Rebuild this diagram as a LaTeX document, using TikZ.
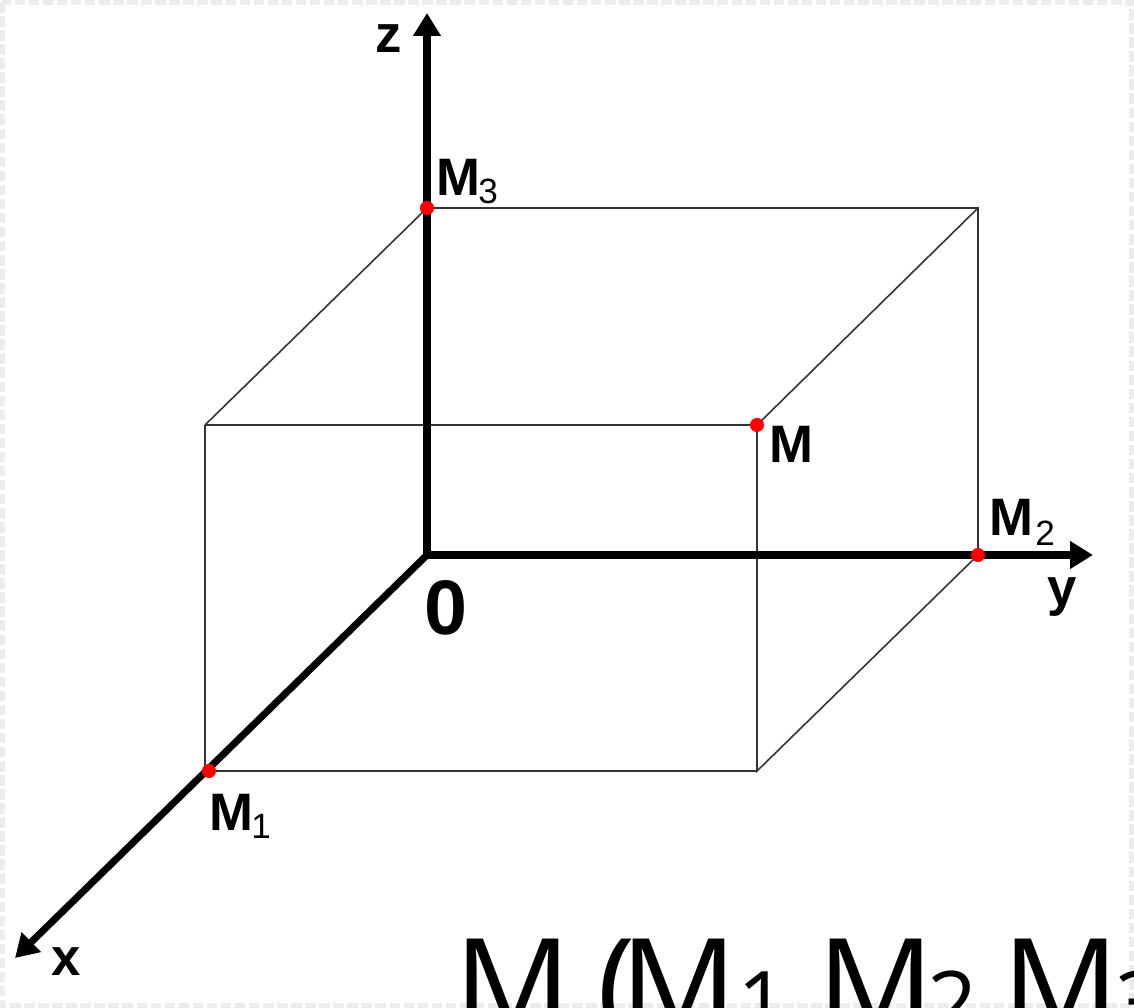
\documentclass[tikz,border=0pt]{standalone}
\usepackage{fontspec}
\setmainfont{Liberation Sans}
\newfontfamily\bigfont{Open Sans}
\usetikzlibrary{arrows.meta}
\begin{document}
\begin{tikzpicture}[x=0.02cm,y=-0.02cm,
  axis/.style={line width=4pt,-{Triangle[length=13pt,width=15pt]}},
  edge/.style={line width=0.9pt,draw=black!80},
  pt/.style={circle,fill=red,inner sep=0pt,minimum size=8pt},
  lab/.style={anchor=base west,inner sep=0pt,font=\fontsize{30}{36}\selectfont\bfseries},
  sub/.style={anchor=base west,inner sep=0pt,font=\fontsize{20}{24}\selectfont},
  big/.style={anchor=base west,inner sep=0pt,font=\bigfont\fontsize{73.7}{80}\selectfont},
  bigsub/.style={anchor=base west,inner sep=0pt,font=\bigfont\fontsize{50}{56}\selectfont}]
\useasboundingbox (0,0) rectangle (1134,1008);
\clip (0,0) rectangle (1134,1008);
\fill[white] (0,0) rectangle (1134,1008);
\draw[gray!15,line width=3pt,dash pattern=on 6pt off 2pt] (2,2) rectangle (1132,1006);
% points
\coordinate (O) at (427,555);
\coordinate (M3) at (427,208);
\coordinate (B) at (978,208);
\coordinate (M2) at (978,555);
\coordinate (F) at (205,425);
\coordinate (M) at (757,425);
\coordinate (FB) at (757,771);
\coordinate (FL) at (205,771);
\coordinate (M1) at (209,771);
\coordinate (Ztip) at (427,13);
\coordinate (Ytip) at (1093,555);
\coordinate (Xtip) at (15,958);
% box edges
\draw[edge] (M3) -- (B) -- (M2);
\draw[edge] (F) -- (M3);
\draw[edge] (F) -- (M) -- (B);
\draw[edge] (F) -- (FL);
\draw[edge] (M1) -- (FB);
\draw[edge] (M) -- (FB) -- (M2);
% axes
\draw[axis] (O) -- (Ztip);
\draw[axis] (O) -- (Ytip);
\draw[axis] (O) -- (Xtip);
% points
\node[pt] (p3) at (M3) {};
\node[pt] (p) at (M) {};
\node[pt] (p2) at (M2) {};
\node[pt] (p1) at (M1) {};
% labels
\node[lab] (lz) at (375,52) {z};
\node[lab] (ly) at (1047,605) {y};
\node[lab] (lx) at (51,975) {x};
\node[anchor=base west,inner sep=0pt,font=\fontsize{44}{50}\selectfont\bfseries] (lo) at (424,634) {0};
\node[lab] (l3) at (436,195) {M};
\node[sub] (l3s) at (478,203) {3};
\node[lab] (lm) at (769,462) {M};
\node[lab] (l2) at (989,535) {M};
\node[sub] (l2s) at (1035,545) {2};
\node[lab] (l1) at (209,830) {M};
\node[sub] (l1s) at (251,838) {1};
% big text
\node[big] (t1) at (454,1031) {M};
\node[big] (t2) at (597,1031) {(};
\node[big] (t3) at (620,1031) {M};
\node[bigsub] (t4) at (737,1034) {1};
\node[big] (t5) at (817,1031) {M};
\node[bigsub] (t6) at (927,1034) {2};
\node[big] (t7) at (1002,1031) {M};
\node[bigsub] (t8) at (1115,1034) {3};
\end{tikzpicture}
\end{document}
